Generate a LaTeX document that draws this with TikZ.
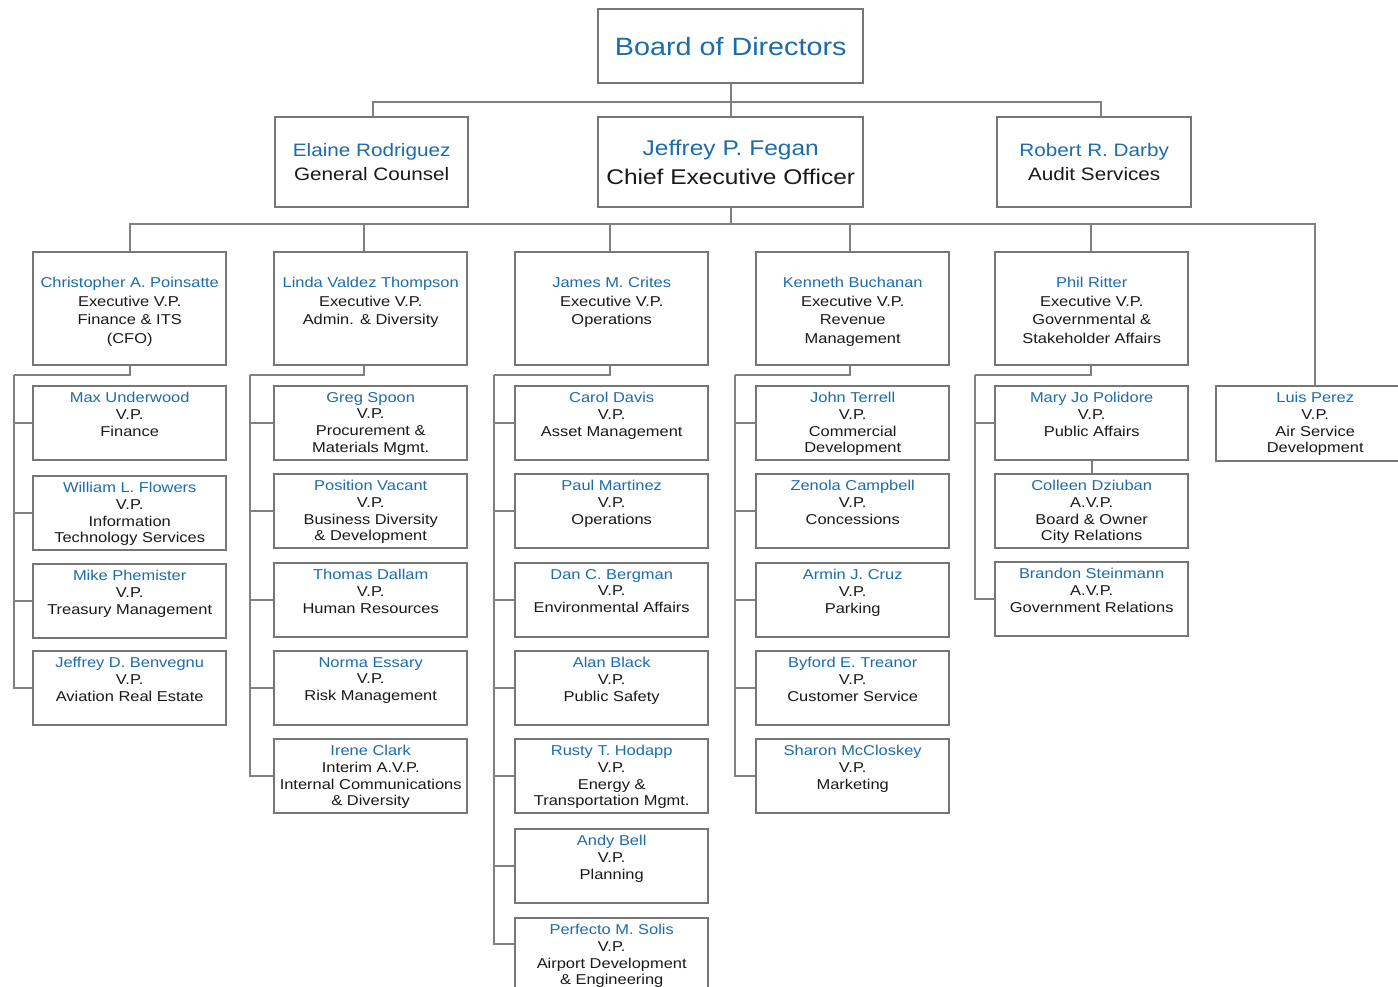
\documentclass[tikz,border=0pt]{standalone}
\usepackage{fontspec}
\setmainfont{Liberation Sans}
\newfontfamily\chartfont[FakeStretch=1.15]{Liberation Sans}
\definecolor{nameblue}{RGB}{28,108,172}
\definecolor{txtgray}{RGB}{25,25,25}
\definecolor{boxgray}{RGB}{118,118,118}
\definecolor{linegray}{RGB}{128,128,128}
\tikzset{
  orgbox/.style={draw=boxgray, line width=2.4pt, fill=white, inner sep=0pt, anchor=north west, text=txtgray},
  link/.style={draw=linegray, line width=2pt},
}
\newcommand\nm[1]{\textcolor{nameblue}{#1}}
\newcommand\subfont{\chartfont\fontsize{14.3}{16.8}\selectfont}
\newcommand\evpfont{\chartfont\fontsize{14.3}{18.5}\selectfont}
\newcommand\subbox[4]{\node[orgbox] (#1) at (#2,#3) {\parbox[c][74pt][t]{193pt}{\subfont\centering\vspace*{6pt}#4\par}};}
\newcommand\evpbox[3]{\node[orgbox] (#1) at (#2,251) {\parbox[c][113pt][t]{193pt}{\evpfont\centering\vspace*{25pt}#3\par}};}
\begin{document}
\begin{tikzpicture}[x=1pt,y=-1pt]
\useasboundingbox (0,0) rectangle (1398,987);
\clip (0,0) rectangle (1398,987);
% top level
\node[orgbox, minimum width=265pt, minimum height=74pt, font=\chartfont\fontsize{25}{30}\selectfont] (board) at (597,8) {\nm{Board of Directors}};
\node[orgbox, minimum width=193pt, minimum height=90pt, align=center, font=\chartfont\fontsize{18}{24}\selectfont] (elaine) at (274,116) {\nm{Elaine Rodriguez}\\General Counsel};
\node[orgbox, minimum width=265pt, minimum height=90pt, align=center, font=\chartfont\fontsize{21.3}{29}\selectfont] (ceo) at (597,116) {\nm{Jeffrey P. Fegan}\\Chief Executive Officer};
\node[orgbox, minimum width=194pt, minimum height=90pt, align=center, font=\chartfont\fontsize{18}{24}\selectfont] (robert) at (996,116) {\nm{Robert R. Darby}\\Audit Services};
% executive vice presidents
\evpbox{evp1}{32}{\nm{Christopher A. Poinsatte}\\Executive V.P.\\Finance \& ITS\\(CFO)}
\evpbox{evp2}{273}{\nm{Linda Valdez Thompson}\\Executive V.P.\\Admin. \& Diversity}
\evpbox{evp3}{514}{\nm{James M. Crites}\\Executive V.P.\\Operations}
\evpbox{evp4}{755}{\nm{Kenneth Buchanan}\\Executive V.P.\\Revenue\\Management}
\evpbox{evp5}{994}{\nm{Phil Ritter}\\Executive V.P.\\Governmental \&\\Stakeholder Affairs}
\node[orgbox] (luis) at (1215,385) {\parbox[c][75pt][t]{198pt}{\subfont\centering\vspace*{6pt}\nm{Luis Perez}\\V.P.\\Air Service\\Development\par}};
% column 1
\subbox{max}{32}{385}{\nm{Max Underwood}\\V.P.\\Finance}
\subbox{william}{32}{475}{\nm{William L. Flowers}\\V.P.\\Information\\Technology Services}
\subbox{mike}{32}{563}{\nm{Mike Phemister}\\V.P.\\Treasury Management}
\subbox{benvegnu}{32}{650}{\nm{Jeffrey D. Benvegnu}\\V.P.\\Aviation Real Estate}
% column 2
\subbox{greg}{273}{385}{\nm{Greg Spoon}\\V.P.\\Procurement \&\\Materials Mgmt.}
\subbox{vacant}{273}{473}{\nm{Position Vacant}\\V.P.\\Business Diversity\\\& Development}
\subbox{thomas}{273}{562}{\nm{Thomas Dallam}\\V.P.\\Human Resources}
\subbox{norma}{273}{650}{\nm{Norma Essary}\\V.P.\\Risk Management}
\subbox{irene}{273}{738}{\nm{Irene Clark}\\Interim A.V.P.\\Internal Communications\\\& Diversity}
% column 3
\subbox{carol}{514}{385}{\nm{Carol Davis}\\V.P.\\Asset Management}
\subbox{paul}{514}{473}{\nm{Paul Martinez}\\V.P.\\Operations}
\subbox{dan}{514}{562}{\nm{Dan C. Bergman}\\V.P.\\Environmental Affairs}
\subbox{alan}{514}{650}{\nm{Alan Black}\\V.P.\\Public Safety}
\subbox{rusty}{514}{738}{\nm{Rusty T. Hodapp}\\V.P.\\Energy \&\\Transportation Mgmt.}
\subbox{andy}{514}{828}{\nm{Andy Bell}\\V.P.\\Planning}
\subbox{perfecto}{514}{917}{\nm{Perfecto M. Solis}\\V.P.\\Airport Development\\\& Engineering}
% column 4
\subbox{john}{755}{385}{\nm{John Terrell}\\V.P.\\Commercial\\Development}
\subbox{zenola}{755}{473}{\nm{Zenola Campbell}\\V.P.\\Concessions}
\subbox{armin}{755}{562}{\nm{Armin J. Cruz}\\V.P.\\Parking}
\subbox{byford}{755}{650}{\nm{Byford E. Treanor}\\V.P.\\Customer Service}
\subbox{sharon}{755}{738}{\nm{Sharon McCloskey}\\V.P.\\Marketing}
% column 5
\subbox{maryjo}{994}{385}{\nm{Mary Jo Polidore}\\V.P.\\Public Affairs}
\subbox{colleen}{994}{473}{\nm{Colleen Dziuban}\\A.V.P.\\Board \& Owner\\City Relations}
\subbox{brandon}{994}{561}{\nm{Brandon Steinmann}\\A.V.P.\\Government Relations}
% connectors, top
\draw[link] (board.south) -- ++(0,18) coordinate (topbar);
\draw[link] (topbar) -| ([xshift=1.5pt]elaine.north);
\draw[link] (topbar) -| ([xshift=7pt]robert.north);
\draw[link] (topbar) -- (ceo.north);
\draw[link] (ceo.south) -- ++(0,16) coordinate (midbar);
\draw[link] (midbar) -| (evp1.north);
\draw[link] (midbar) -| ([xshift=-6.5pt]evp2.north);
\draw[link] (midbar) -| ([xshift=-2pt]evp3.north);
\draw[link] (midbar) -| ([xshift=-3pt]evp4.north);
\draw[link] (midbar) -| ([xshift=-1pt]evp5.north);
\draw[link] (midbar) -| (luis.north);
% column trunks
\coordinate (t1) at (14,375);
\coordinate (t2) at (250,375);
\coordinate (t3) at (494,375);
\coordinate (t4) at (735,375);
\coordinate (t5) at (975,375);
\draw[link] (evp1.south) |- (t1);
\draw[link] ([xshift=-6.5pt]evp2.south) |- (t2);
\draw[link] ([xshift=-2pt]evp3.south) |- (t3);
\draw[link] ([xshift=-3pt]evp4.south) |- (t4);
\draw[link] ([xshift=-1pt]evp5.south) |- (t5);
\draw[link] (t1) |- (max.west) (t1) |- (william.west) (t1) |- (mike.west) (t1) |- (benvegnu.west);
\draw[link] (t2) |- (greg.west) (t2) |- (vacant.west) (t2) |- (thomas.west) (t2) |- (norma.west) (t2) |- (irene.west);
\draw[link] (t3) |- (carol.west) (t3) |- (paul.west) (t3) |- (dan.west) (t3) |- (alan.west) (t3) |- (rusty.west) (t3) |- (andy.west) (t3) |- ([yshift=11pt]perfecto.west);
\draw[link] (t4) |- (john.west) (t4) |- (zenola.west) (t4) |- (armin.west) (t4) |- (byford.west) (t4) |- (sharon.west);
\draw[link] (t5) |- (maryjo.west) (t5) |- (brandon.west);
\draw[link] (maryjo.south) -- (colleen.north);
\end{tikzpicture}
\end{document}
